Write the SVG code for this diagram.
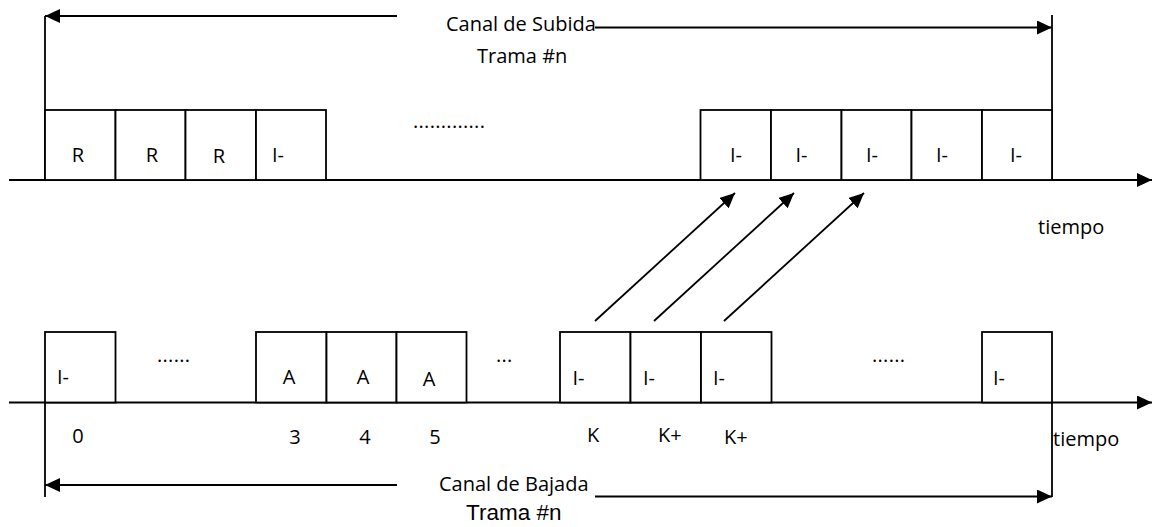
<svg xmlns="http://www.w3.org/2000/svg" width="1152" height="527" viewBox="0 0 1152 527">
<defs>
<marker id="ah" viewBox="0 0 15 14" refX="15" refY="7" markerWidth="15" markerHeight="14" markerUnits="userSpaceOnUse" orient="auto"><path d="M0,0 L15,7 L0,14 z" fill="#000"/></marker>
<style>
.t{font-family:"Open Sans",sans-serif;font-size:20px;fill:#000}
.m{text-anchor:middle}
.a{font-family:"Liberation Sans",Arial,sans-serif;font-size:22.5px;fill:#000}
.b{fill:#fff;stroke:#000;stroke-width:1.8}
.l{stroke:#000;stroke-width:1.8;fill:none}
.d{font-family:"Open Sans",sans-serif;font-size:20px;fill:#000;letter-spacing:0.3px}
</style>
</defs>
<rect width="1152" height="527" fill="#fff"/>

<g id="connectors">
  <line class="l" x1="9" y1="180" x2="1152" y2="180" marker-end="url(#ah)"/>
  <line class="l" x1="9" y1="402.5" x2="1152" y2="402.5" marker-end="url(#ah)"/>
  <line class="l" x1="45" y1="16" x2="45" y2="180"/>
  <line class="l" x1="1052" y1="15" x2="1052" y2="180"/>
  <line class="l" x1="397" y1="16" x2="45" y2="16" marker-end="url(#ah)"/>
  <line class="l" x1="595" y1="27.5" x2="1052" y2="27.5" marker-end="url(#ah)"/>
  <line class="l" x1="45" y1="402" x2="45" y2="497"/>
  <line class="l" x1="1052" y1="402" x2="1052" y2="497"/>
  <line class="l" x1="397" y1="485" x2="45" y2="485" marker-end="url(#ah)"/>
  <line class="l" x1="595" y1="496.5" x2="1052" y2="496.5" marker-end="url(#ah)"/>
  <line class="l" x1="595" y1="321" x2="735" y2="193" marker-end="url(#ah)"/>
  <line class="l" x1="654" y1="321" x2="794" y2="193" marker-end="url(#ah)"/>
  <line class="l" x1="724" y1="321" x2="864" y2="193" marker-end="url(#ah)"/>
</g>

<g id="labels">
  <text class="t" x="446" y="31">Canal de Subida</text>
  <text class="t" x="477" y="63">Trama #n</text>
  <text class="d" x="413" y="128">.............</text>
  <text class="t" x="1038" y="234">tiempo</text>
  <text class="d" x="157" y="362">......</text>
  <text class="d" x="496" y="362">...</text>
  <text class="d" x="872" y="362">......</text>
  <text class="t m" x="78" y="443">0</text>
  <text class="t m" x="295" y="444">3</text>
  <text class="t m" x="365" y="444">4</text>
  <text class="t m" x="435" y="444">5</text>
  <text class="t m" x="593" y="442">K</text>
  <text class="t" x="658" y="442">K+</text>
  <text class="t" x="724" y="444">K+</text>
  <text class="t" x="1053" y="446">tiempo</text>
  <text class="t" x="439" y="491">Canal de Bajada</text>
  <text class="a" x="466" y="520">Trama #n</text>
</g>

<g id="up1"><rect class="b" x="45" y="110" width="70.5" height="70"/><text class="t m" x="78" y="161.5">R</text></g>
<g id="up2"><rect class="b" x="115.5" y="110" width="70" height="70"/><text class="t m" x="152" y="161.5">R</text></g>
<g id="up3"><rect class="b" x="185.5" y="110" width="70.5" height="70"/><text class="t m" x="219" y="163">R</text></g>
<g id="up4"><rect class="b" x="256" y="110" width="70" height="70"/><text class="t" x="272" y="162">I-</text></g>
<g id="up5"><rect class="b" x="700.5" y="110" width="70.5" height="70"/><text class="t" x="730" y="162">I-</text></g>
<g id="up6"><rect class="b" x="771" y="110" width="70.5" height="70"/><text class="t" x="795.5" y="162">I-</text></g>
<g id="up7"><rect class="b" x="841.5" y="110" width="70" height="70"/><text class="t" x="866" y="162">I-</text></g>
<g id="up8"><rect class="b" x="911.5" y="110" width="70.5" height="70"/><text class="t" x="936" y="162">I-</text></g>
<g id="up9"><rect class="b" x="982" y="110" width="70" height="70"/><text class="t" x="1010" y="162">I-</text></g>

<g id="dn0"><rect class="b" x="45" y="332" width="70.5" height="70.5"/><text class="t" x="57" y="384">I-</text></g>
<g id="dn3"><rect class="b" x="256" y="332" width="70.5" height="70.5"/><text class="t m" x="289" y="384">A</text></g>
<g id="dn4"><rect class="b" x="326.5" y="332" width="70" height="70.5"/><text class="t m" x="363" y="384">A</text></g>
<g id="dn5"><rect class="b" x="396.5" y="332" width="70" height="70.5"/><text class="t m" x="429" y="386">A</text></g>
<g id="dnK"><rect class="b" x="560" y="332" width="70.5" height="70.5"/><text class="t" x="572.5" y="385">I-</text></g>
<g id="dnK1"><rect class="b" x="630.5" y="332" width="70.5" height="70.5"/><text class="t" x="643" y="385">I-</text></g>
<g id="dnK2"><rect class="b" x="701" y="332" width="70.5" height="70.5"/><text class="t" x="713" y="385">I-</text></g>
<g id="dnN"><rect class="b" x="982" y="332" width="70" height="70.5"/><text class="t" x="993" y="385">I-</text></g>
</svg>
